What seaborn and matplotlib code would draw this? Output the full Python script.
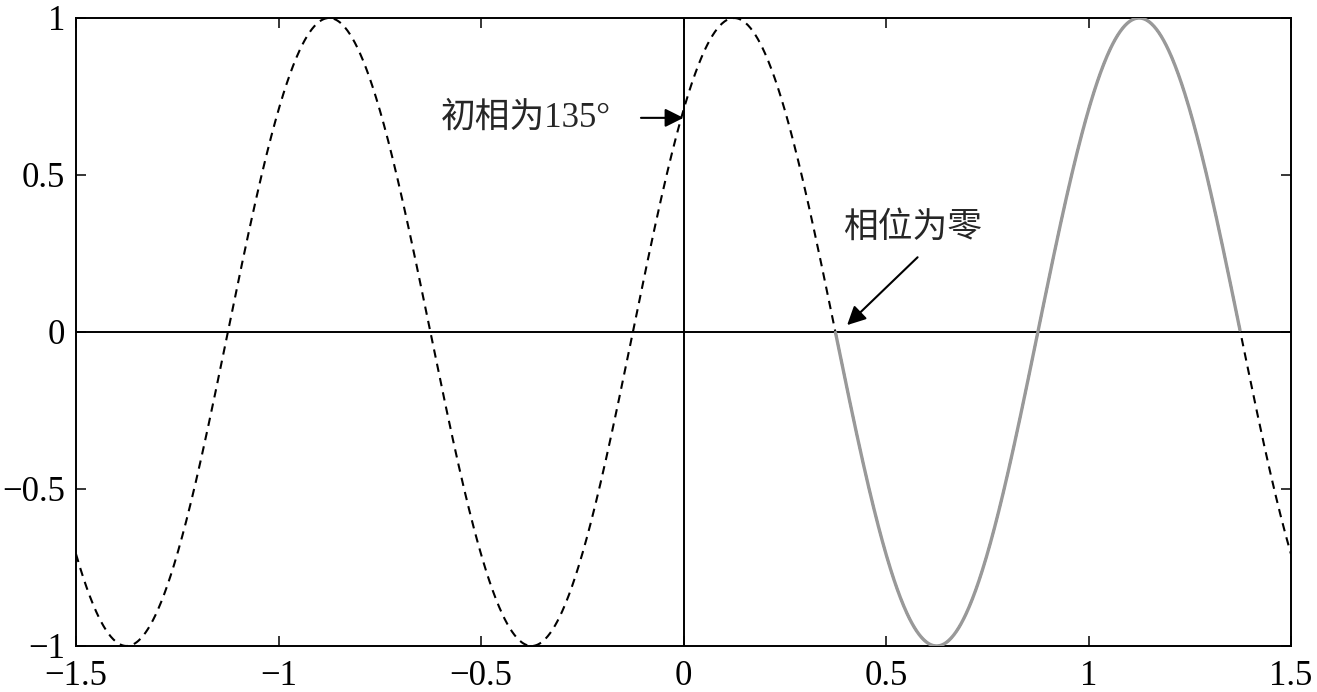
import numpy as np
import pandas as pd
import matplotlib
matplotlib.use("Agg")
import matplotlib.pyplot as plt
import seaborn as sns

# values
amplitude = 1.0
frequency = 1.0          # one period per unit on x
phase_deg = 45.0         # curve passes 0.707 rising at x = 0
x_range = [-1.5, 1.5]
solid_range = [0.375, 1.375]   # one period drawn in solid grey
x_ticks = [-1.5, -1, -0.5, 0, 0.5, 1, 1.5]
x_tick_labels = ["\u22121.5", "\u22121", "\u22120.5", "0", "0.5", "1", "1.5"]
y_ticks = [-1, -0.5, 0, 0.5, 1]
y_tick_labels = ["\u22121", "\u22120.5", "0", "0.5", "1"]
label_start = "初相为135°"
label_zero = "相位为零"

x = np.linspace(x_range[0], x_range[1], 1500)
y = amplitude * np.sin(2 * np.pi * frequency * x + np.deg2rad(phase_deg))
df = pd.DataFrame({"x": x, "y": y})
solid = df[(df["x"] >= solid_range[0]) & (df["x"] <= solid_range[1])]

sns.set_style("ticks")
plt.rcParams["font.family"] = ["Liberation Serif", "Noto Sans CJK SC"]
plt.rcParams["axes.unicode_minus"] = True

fig = plt.figure(figsize=(13.17, 6.92), dpi=100)
ax = fig.add_axes([76 / 1317, 1 - 646 / 692, (1291 - 76) / 1317, (646 - 18) / 692])

ax.axhline(0, color="black", lw=1.4, zorder=1)
ax.axvline(0, color="black", lw=1.4, zorder=1)

sns.lineplot(data=df, x="x", y="y", ax=ax, color="black", lw=1.5,
             sort=False, estimator=None, zorder=2)
ax.lines[-1].set_dashes((4, 3))
sns.lineplot(data=solid, x="x", y="y", ax=ax, color="#999999", lw=2.4,
             sort=False, estimator=None, zorder=3)

ax.set_xlim(x_range)
ax.set_ylim(-1, 1)
ax.set_xticks(x_ticks)
ax.set_xticklabels(x_tick_labels)
ax.set_yticks(y_ticks)
ax.set_yticklabels(y_tick_labels)
ax.set_xlabel("")
ax.set_ylabel("")
ax.tick_params(direction="in", length=7, width=1.1, labelsize=25,
               top=True, right=True, color="black", labelcolor="black")
ax.tick_params(axis="x", pad=10)
ax.tick_params(axis="y", pad=8)
for s in ax.spines.values():
    s.set_visible(True)
    s.set_linewidth(1.4)
    s.set_color("black")

ax.text(-0.18, 0.682, label_start, fontsize=25, ha="right", va="center")
ax.annotate("", xy=(0, 0.682), xytext=(-0.105, 0.682),
            arrowprops=dict(arrowstyle="-|>", color="black", lw=1.5,
                            mutation_scale=28, shrinkA=0, shrinkB=0))
ax.annotate("", xy=(0.404, 0.022), xytext=(0.578, 0.238),
            arrowprops=dict(arrowstyle="-|>", color="black", lw=1.5,
                            mutation_scale=28, shrinkA=0, shrinkB=0))
ax.text(0.565, 0.33, label_zero, fontsize=25, ha="center", va="center")

fig.savefig("out.png", dpi=100)
